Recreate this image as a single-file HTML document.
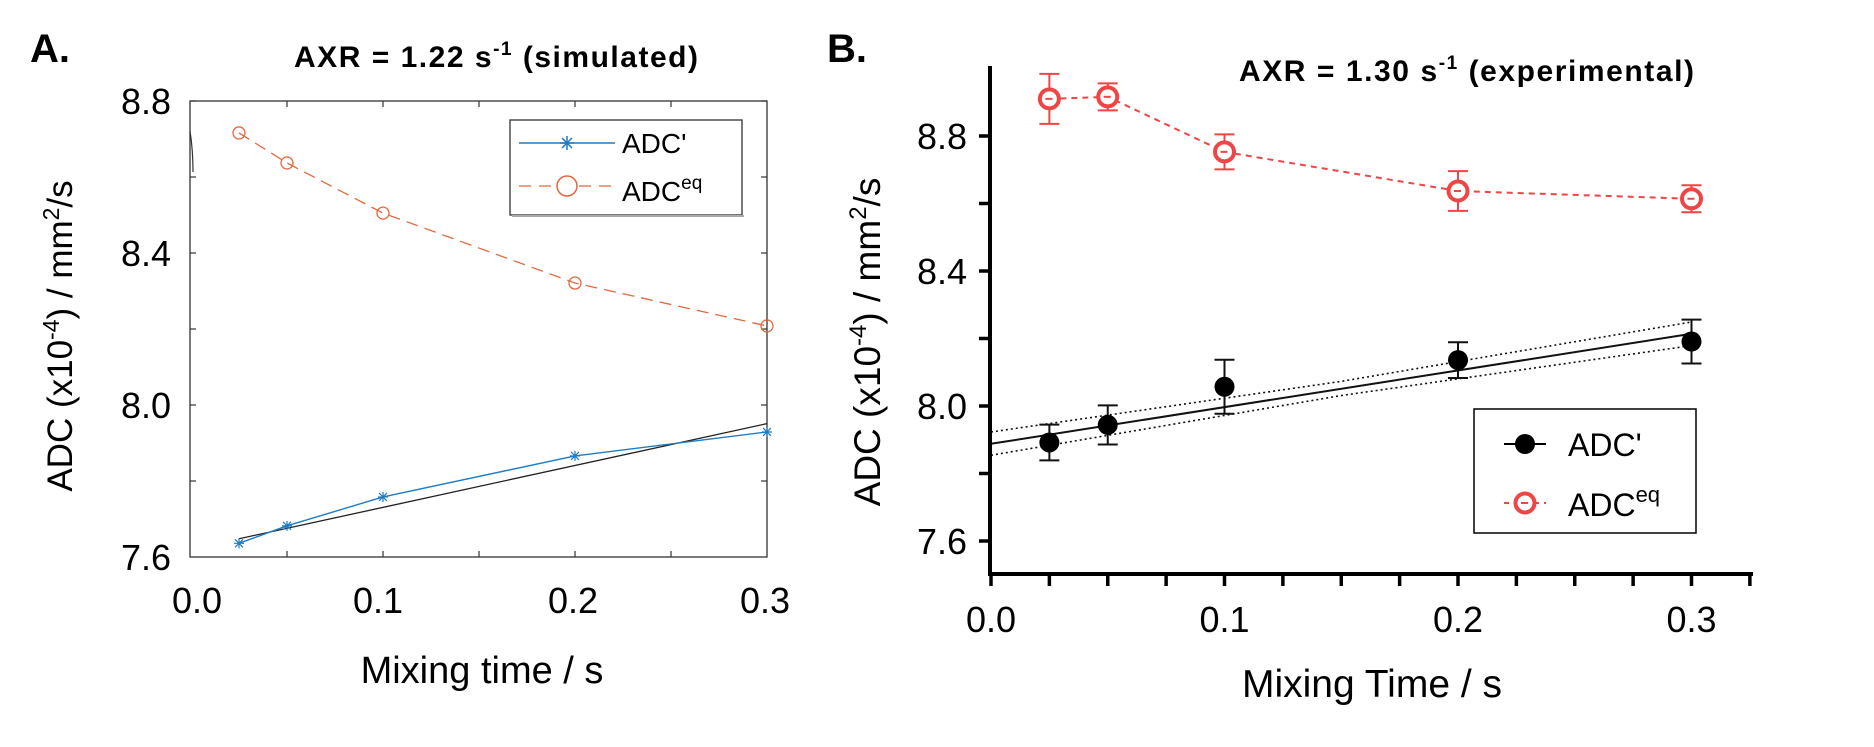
<!DOCTYPE html>
<html><head><meta charset="utf-8">
<style>
html,body{margin:0;padding:0;background:#fff;}
svg{display:block;font-family:"Liberation Sans",Arial,sans-serif;}
</style></head>
<body>
<svg id="fig" width="1874" height="747" viewBox="0 0 1874 747" xmlns="http://www.w3.org/2000/svg">
  <rect width="1874" height="747" fill="#fff"/>
  <!-- Panel A static text -->
  <text x="30" y="62" font-size="40" font-weight="bold">A.</text>
  <text x="294" y="67" font-size="30" font-weight="bold" textLength="404">AXR = 1.22 s<tspan font-size="19" dy="-12">-1</tspan><tspan dy="12"> (simulated)</tspan></text>
  <text transform="translate(72,336) rotate(-90)" text-anchor="middle" font-size="35">ADC (x10<tspan font-size="23" dy="-13">-4</tspan><tspan dy="13">) / mm</tspan><tspan font-size="23" dy="-13">2</tspan><tspan dy="13">/s</tspan></text>
  <text x="482" y="683" text-anchor="middle" font-size="38">Mixing time / s</text>
  <!-- Panel B static text -->
  <text x="827" y="62" font-size="40" font-weight="bold">B.</text>
  <text x="1239" y="81" font-size="30" font-weight="bold" textLength="455">AXR = 1.30 s<tspan font-size="19" dy="-12">-1</tspan><tspan dy="12"> (experimental)</tspan></text>
  <text transform="translate(880,342) rotate(-90)" text-anchor="middle" font-size="37">ADC (x10<tspan font-size="24" dy="-14">-4</tspan><tspan dy="14">) / mm</tspan><tspan font-size="24" dy="-14">2</tspan><tspan dy="14">/s</tspan></text>
  <text x="1372" y="697" text-anchor="middle" font-size="39">Mixing Time / s</text>
  <g id="ga"></g>
  <g id="gb"></g>
</svg>
<script>
// ---------- Panel A data ----------
const aTimes = [0.025, 0.05, 0.1, 0.2, 0.3];
const aAdcPrime = [7.636, 7.682, 7.758, 7.866, 7.929];
const aAdcEq = [8.716, 8.637, 8.505, 8.321, 8.208];
const aFitX = [0.025, 0.3];
const aFitY = [7.648, 7.951];
const aYTicks = [7.6, 8.0, 8.4, 8.8];
const aYTickLabels = ["7.6", "8.0", "8.4", "8.8"];
const aXTicks = [0.0, 0.1, 0.2, 0.3];
const aXTickLabels = ["0.0", "0.1", "0.2", "0.3"];
// ---------- Panel B data ----------
const bTimes = [0.025, 0.05, 0.1, 0.2, 0.3];
const bAdcPrime = [7.892, 7.944, 8.057, 8.136, 8.191];
const bAdcPrimeErr = [0.053, 0.058, 0.08, 0.053, 0.065];
const bAdcEq = [8.91, 8.916, 8.753, 8.637, 8.614];
const bAdcEqErr = [0.074, 0.04, 0.052, 0.059, 0.04];
const bFitX = [0.0, 0.3];
const bFitY = [7.888, 8.214];
const bBandX = [0.0, 0.15, 0.3];
const bBandUpper = [7.923, 8.073, 8.249];
const bBandLower = [7.854, 8.031, 8.179];
const bYTicks = [7.6, 8.0, 8.4, 8.8];
const bYTickLabels = ["7.6", "8.0", "8.4", "8.8"];
const bXTicks = [0.0, 0.1, 0.2, 0.3];
const bXTickLabels = ["0.0", "0.1", "0.2", "0.3"];

const NS = "http://www.w3.org/2000/svg";
function mk(parent, tag, attrs) {
  const e = document.createElementNS(NS, tag);
  for (const k in attrs) e.setAttribute(k, attrs[k]);
  parent.appendChild(e);
  return e;
}

// ---------- Panel A ----------
(function(){
  const g = document.getElementById('ga');
  const X = t => 191 + t * 1920;
  const Y = v => 557 - (v - 7.6) * 380;
  let e;
  e = mk(g, 'rect', {x:190, y:101, width:577, height:456, fill:'none', stroke:'#333', 'stroke-width':1.3});
  
  
  // small artifact arc near left axis
  mk(g, 'path', {d:'M190 131 Q193 150 193 172', fill:'none', stroke:'#333', 'stroke-width':1.2});
  // minor ticks (inside)
  for (let t = 0.05; t < 0.3; t += 0.05) {
    mk(g, 'line', {x1:X(t), y1:557, x2:X(t), y2:551, stroke:'#333', 'stroke-width':1.2});
    mk(g, 'line', {x1:X(t), y1:101, x2:X(t), y2:107, stroke:'#333', 'stroke-width':1.2});
  }
  for (let v = 7.8; v < 8.8; v += 0.2) {
    mk(g, 'line', {x1:190, y1:Y(v), x2:196, y2:Y(v), stroke:'#333', 'stroke-width':1.2});
    mk(g, 'line', {x1:767, y1:Y(v), x2:761, y2:Y(v), stroke:'#333', 'stroke-width':1.2});
  }
  aYTicks.forEach((v, i) => {
    const t = mk(g, 'text', {x:171, y:Y(v) + 13, 'text-anchor':'end', 'font-size':36});
    t.textContent = aYTickLabels[i];
    
    
  });
  const xLabelPos = [197, 378, 573, 764];
  aXTicks.forEach((v, i) => {
    const t = mk(g, 'text', {x:X(v) + (i===0?6:(i===1?-5:-2)), y:613, 'text-anchor':'middle', 'font-size':36});
    t.textContent = aXTickLabels[i];
    
    
  });
  // fit line
  e = mk(g, 'line', {x1:X(aFitX[0]), y1:Y(aFitY[0]), x2:X(aFitX[1]), y2:Y(aFitY[1]), stroke:'#222', 'stroke-width':1.3});
  
  
  // ADC eq dashed
  e = mk(g, 'polyline', {points:aTimes.map((t,i)=>X(t)+','+Y(aAdcEq[i])).join(' '), fill:'none', stroke:'#e2683c', 'stroke-width':1.3, 'stroke-dasharray':'12 7'});
  
  
  aTimes.forEach((t, i) => {
    const c = mk(g, 'circle', {cx:X(t), cy:Y(aAdcEq[i]), r:6, fill:'none', stroke:'#e2683c', 'stroke-width':1.3});
    
    
  });
  // ADC' line
  e = mk(g, 'polyline', {points:aTimes.map((t,i)=>X(t)+','+Y(aAdcPrime[i])).join(' '), fill:'none', stroke:'#1f7cc4', 'stroke-width':1.4});
  
  
  aTimes.forEach((t, i) => {
    const cx = X(t), cy = Y(aAdcPrime[i]);
    const s = mk(g, 'path', {d:`M${cx-5} ${cy}H${cx+5}M${cx} ${cy-5}V${cy+5}M${cx-4} ${cy-4}L${cx+4} ${cy+4}M${cx-4} ${cy+4}L${cx+4} ${cy-4}`, stroke:'#1f7cc4', 'stroke-width':1.2});
    
    
  });
  // legend
  const lg = mk(g, 'g', {});
  
  
  mk(lg, 'rect', {x:510, y:120, width:232, height:95, fill:'#fff', stroke:'#333', 'stroke-width':1.3});
  mk(lg, 'line', {x1:512, y1:216, x2:744, y2:216, stroke:'#aaa', 'stroke-width':2});
  mk(lg, 'line', {x1:519, y1:143, x2:615, y2:143, stroke:'#1f7cc4', 'stroke-width':1.4});
  mk(lg, 'path', {d:'M560 143H574M567 136V150M562 138L572 148M562 148L572 138', stroke:'#1f7cc4', 'stroke-width':1.5});
  let lt = mk(lg, 'text', {x:622, y:153, 'font-size':28});
  lt.textContent = "ADC'";
  
  
  mk(lg, 'line', {x1:519, y1:186, x2:615, y2:186, stroke:'#e2683c', 'stroke-width':1.3, 'stroke-dasharray':'12 8'});
  mk(lg, 'circle', {cx:567, cy:186, r:10, fill:'#fff', stroke:'#e2683c', 'stroke-width':1.5});
  lt = mk(lg, 'text', {x:622, y:201, 'font-size':28});
  lt.innerHTML = 'ADC<tspan font-size="19" dy="-12">eq</tspan>';
  
  
})();

// ---------- Panel B ----------
(function(){
  const g = document.getElementById('gb');
  const X = t => 991 + t * 2335;
  const Y = v => 136 + (8.8 - v) * 337.5;
  let e;
  // confidence bands
  [bBandUpper, bBandLower].forEach((arr, k) => {
    const p = mk(g, 'polyline', {points:bBandX.map((t,i)=>X(t)+','+Y(arr[i])).join(' '), fill:'none', stroke:'#111', 'stroke-width':1.6, 'stroke-dasharray':'2 3'});
    
    
  });
  e = mk(g, 'line', {x1:X(bFitX[0]), y1:Y(bFitY[0]), x2:X(bFitX[1]), y2:Y(bFitY[1]), stroke:'#111', 'stroke-width':2});
  
  
  // ADC eq dashed line
  e = mk(g, 'polyline', {points:bTimes.map((t,i)=>X(t)+','+Y(bAdcEq[i])).join(' '), fill:'none', stroke:'#f04545', 'stroke-width':2, 'stroke-dasharray':'6 5'});
  
  
  // error bars + points
  bTimes.forEach((t, i) => {
    const cx = X(t);
    const eb = mk(g, 'path', {d:`M${cx} ${Y(bAdcEq[i]+bAdcEqErr[i])}V${Y(bAdcEq[i]-bAdcEqErr[i])}M${cx-10} ${Y(bAdcEq[i]+bAdcEqErr[i])}H${cx+10}M${cx-10} ${Y(bAdcEq[i]-bAdcEqErr[i])}H${cx+10}`, stroke:'#f04545', 'stroke-width':2, fill:'none'});
    
    
    const c = mk(g, 'circle', {cx:cx, cy:Y(bAdcEq[i]), r:9.5, fill:'#fff', stroke:'#f04545', 'stroke-width':4});
    
    
    mk(g, 'line', {x1:cx-4, y1:Y(bAdcEq[i]), x2:cx+3, y2:Y(bAdcEq[i]), stroke:'#f04545', 'stroke-width':2});
    const eb2 = mk(g, 'path', {d:`M${cx} ${Y(bAdcPrime[i]+bAdcPrimeErr[i])}V${Y(bAdcPrime[i]-bAdcPrimeErr[i])}M${cx-10} ${Y(bAdcPrime[i]+bAdcPrimeErr[i])}H${cx+10}M${cx-10} ${Y(bAdcPrime[i]-bAdcPrimeErr[i])}H${cx+10}`, stroke:'#111', 'stroke-width':2, fill:'none'});
    
    
    const d = mk(g, 'circle', {cx:cx, cy:Y(bAdcPrime[i]), r:10, fill:'#000'});
    
    
  });
  // axes
  e = mk(g, 'path', {d:'M990 66V576M988 574H1753', stroke:'#000', 'stroke-width':4, fill:'none'});
  
  
  for (let k = 0; k <= 13; k++) {
    const x = X(k * 0.025);
    mk(g, 'line', {x1:x, y1:574, x2:x, y2:586, stroke:'#000', 'stroke-width':3.5});
  }
  for (let k = 0; k <= 6; k++) {
    const y = Y(7.6 + k * 0.2);
    mk(g, 'line', {x1:990, y1:y, x2:979, y2:y, stroke:'#000', 'stroke-width':3.5});
  }
  bYTicks.forEach((v, i) => {
    const t = mk(g, 'text', {x:967, y:Y(v) + 13, 'text-anchor':'end', 'font-size':36});
    t.textContent = bYTickLabels[i];
    
    
  });
  bXTicks.forEach((v, i) => {
    const t = mk(g, 'text', {x:X(v), y:632, 'text-anchor':'middle', 'font-size':36});
    t.textContent = bXTickLabels[i];
    
    
  });
  // legend
  const lg = mk(g, 'g', {});
  
  
  mk(lg, 'rect', {x:1474, y:409, width:222, height:124, fill:'#fff', stroke:'#000', 'stroke-width':1.5});
  mk(lg, 'line', {x1:1504, y1:444, x2:1546, y2:444, stroke:'#000', 'stroke-width':2});
  mk(lg, 'circle', {cx:1525, cy:444, r:10, fill:'#000'});
  let lt = mk(lg, 'text', {x:1568, y:456, 'font-size':32});
  lt.textContent = "ADC'";
  
  
  mk(lg, 'line', {x1:1504, y1:503, x2:1546, y2:503, stroke:'#f04545', 'stroke-width':2, 'stroke-dasharray':'5 5'});
  mk(lg, 'circle', {cx:1525, cy:503, r:9.5, fill:'#fff', stroke:'#f04545', 'stroke-width':4});
  mk(lg, 'line', {x1:1521, y1:503, x2:1528, y2:503, stroke:'#f04545', 'stroke-width':2});
  lt = mk(lg, 'text', {x:1568, y:516, 'font-size':32});
  lt.innerHTML = 'ADC<tspan font-size="22" dy="-14">eq</tspan>';
  
  
})();
</script>
</body></html>
